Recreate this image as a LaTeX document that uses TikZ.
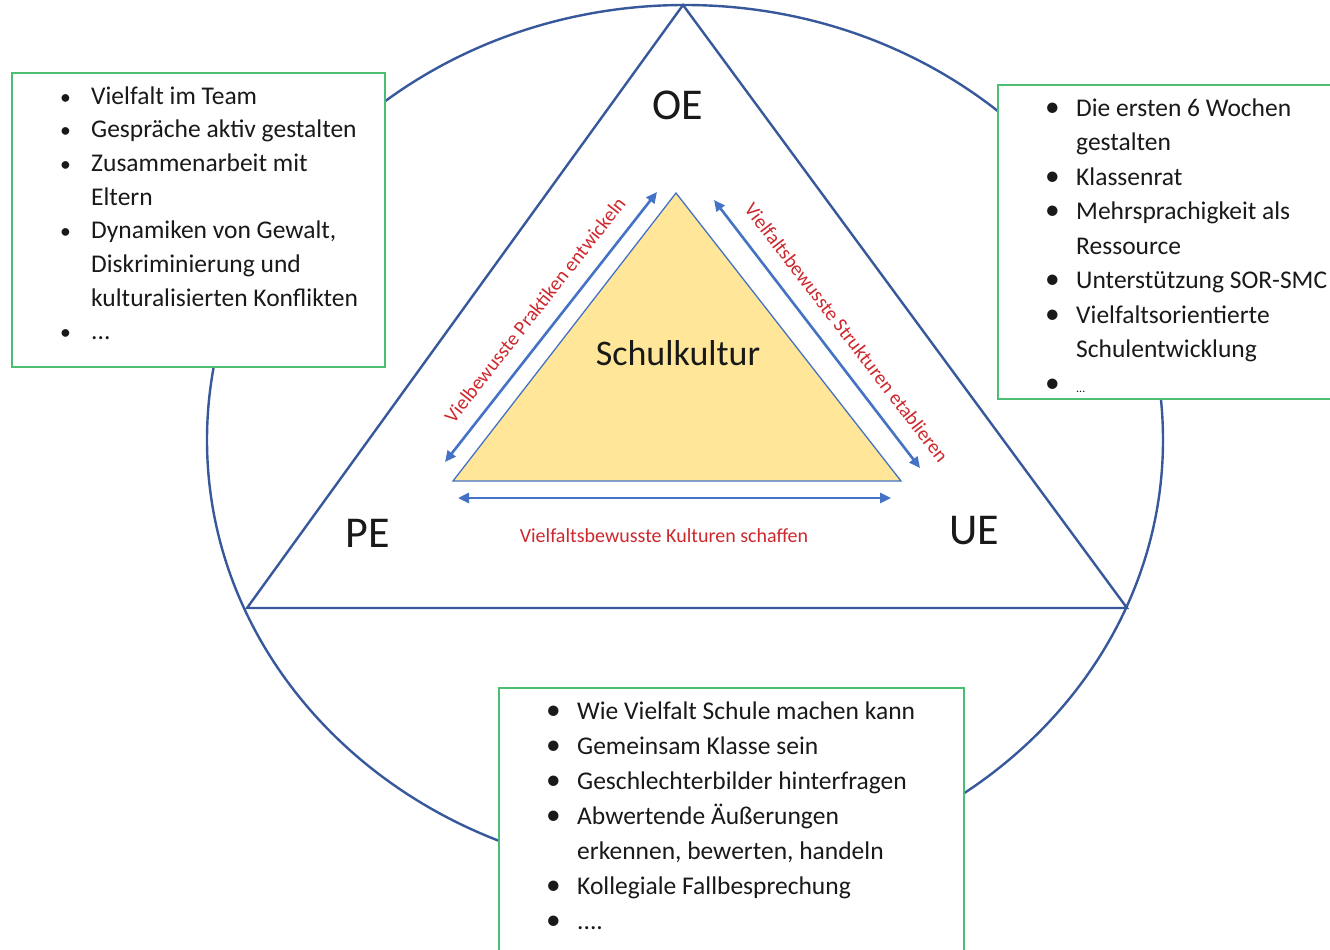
\documentclass[tikz,border=0pt]{standalone}
\usepackage{fontspec}
\setmainfont{Carlito}
\usetikzlibrary{arrows.meta}
\definecolor{outline}{RGB}{55,88,155}
\definecolor{arrowblue}{RGB}{68,114,196}
\definecolor{boxgreen}{RGB}{75,190,115}
\definecolor{yellowfill}{RGB}{255,230,153}
\definecolor{redtext}{RGB}{205,40,45}
\definecolor{ink}{RGB}{25,25,25}
\newcommand{\itm}{\makebox[31pt][l]{\scalebox{1.15}{\textbullet}}}
\newcommand{\itms}{\makebox[31pt][l]{\scalebox{0.85}{\textbullet}}}
\newcommand{\cnt}{\hspace*{31pt}}
\tikzset{
  frame/.style={draw=outline, line width=2.4pt},
  inner/.style={draw=arrowblue, line width=1.3pt, fill=yellowfill, line join=miter},
  dblarrow/.style={draw=arrowblue, line width=2.6pt, {Triangle[length=11pt,width=10pt]}-{Triangle[length=11pt,width=10pt]}},
  redlabel/.style={text=redtext, font=\fontsize{20}{22}\selectfont, inner sep=3pt},
  corner/.style={text=ink, font=\fontsize{44}{50}\selectfont, inner sep=0pt},
  greenbox/.style={draw=boxgreen, line width=2pt, fill=white, anchor=north west, inner sep=0pt},
  listtext/.style={anchor=base west, inner sep=0pt, text=ink, font=\fontsize{25.5}{33.7}\selectfont},
}
\begin{document}
\begin{tikzpicture}[x=1pt, y=-1pt]
\useasboundingbox (0,0) rectangle (1330,950);
\clip (0,0) rectangle (1330,950);
% outer circle
\draw[frame] (685,440) ellipse [x radius=478, y radius=435];
% outer triangle
\coordinate (top) at (683,5);
\coordinate (pl) at (247,608);
\coordinate (pr) at (1127,608);
\draw[frame, line join=miter] (top) -- (pl) -- (pr) -- cycle;
% inner triangle
\coordinate (itop) at (676,193);
\coordinate (il) at (453,481);
\coordinate (ir) at (901,481);
\draw[inner] (itop) -- (il) -- (ir) -- cycle;
\node[text=ink, font=\fontsize{36}{40}\selectfont, inner sep=0pt] (schul) at (678,353) {Schulkultur};
% corner labels
\node[corner] (oe) at (678,105) {OE};
\node[corner] (pe) at (368,533) {PE};
\node[corner] (ue) at (974,531) {UE};
% arrows
\coordinate (a1) at (445,462);
\coordinate (a2) at (657,192);
\coordinate (b1) at (714,200);
\coordinate (b2) at (920,468);
\coordinate (c1) at (458,498);
\coordinate (c2) at (891,498);
\draw[dblarrow] (a1) -- node[redlabel, sloped, above, pos=0.51, inner sep=15pt] (lp) {Vielbewusste Praktiken entwickeln} (a2);
\draw[dblarrow] (b1) -- node[redlabel, sloped, above, pos=0.55, inner sep=16pt] (ls) {Vielfaltsbewusste Strukturen etablieren} (b2);
\draw[dblarrow] (c1) -- (c2);
\node[redlabel] (lk) at (664,536) {Vielfaltsbewusste Kulturen schaffen};
% left box
\node[greenbox, minimum width=373pt, minimum height=294pt] (lbox) at (11,72) {};
\node[listtext] (ltext) at (60,104) {\begin{tabular}[t]{@{}l@{}}
\itms Vielfalt im Team\\
\itms Gespräche aktiv gestalten\\
\itms Zusammenarbeit mit\\
\cnt Eltern\\
\itms Dynamiken von Gewalt,\\
\cnt Diskriminierung und\\
\cnt kulturalisierten Konflikten\\
\itms ...
\end{tabular}};
% right box
\node[greenbox, minimum width=348pt, minimum height=314pt] (rbox) at (997,84) {};
\node[listtext, font=\fontsize{25.5}{34.5}\selectfont] (rtext) at (1045,116) {\begin{tabular}[t]{@{}l@{}}
\itm Die ersten 6 Wochen\\
\cnt gestalten\\
\itm Klassenrat\\
\itm Mehrsprachigkeit als\\
\cnt Ressource\\
\itm Unterstützung SOR-SMC\\
\itm Vielfaltsorientierte\\
\cnt Schulentwicklung\\
\itm {\fontsize{12}{14}\selectfont ...}
\end{tabular}};
% bottom box
\node[greenbox, minimum width=465pt, minimum height=280pt] (bbox) at (498,687) {};
\node[listtext, font=\fontsize{25.5}{35}\selectfont] (btext) at (546,719) {\begin{tabular}[t]{@{}l@{}}
\itm Wie Vielfalt Schule machen kann\\
\itm Gemeinsam Klasse sein\\
\itm Geschlechterbilder hinterfragen\\
\itm Abwertende Äußerungen\\
\cnt erkennen, bewerten, handeln\\
\itm Kollegiale Fallbesprechung\\
\itm ....
\end{tabular}};
\end{tikzpicture}
\end{document}
